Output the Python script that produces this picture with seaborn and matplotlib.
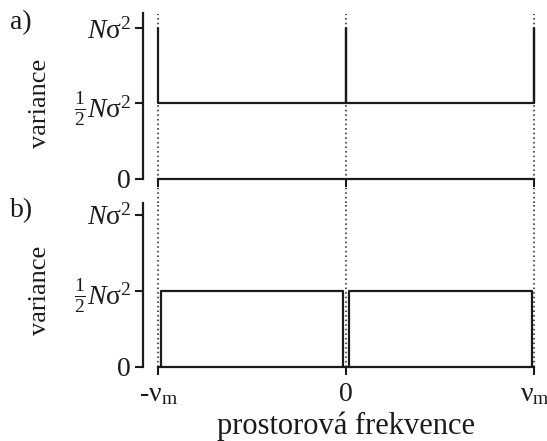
import matplotlib
matplotlib.use("Agg")
import matplotlib.pyplot as plt
import numpy as np
import pandas as pd
import seaborn as sns

# --- data -------------------------------------------------------------
# spatial frequency in units of the maximum frequency nu_m
freq_ticks = [-1.0, 0.0, 1.0]
freq_labels = [r"-$\mathrm{ν}_{\mathrm{m}}$", "0", r"$\mathrm{ν}_{\mathrm{m}}$"]
# variance in units of N*sigma^2
var_ticks = [0.0, 0.5, 1.0]
var_labels = ["0", r"$\frac{1}{2}N\mathrm{σ}^{2}$", r"$N\mathrm{σ}^{2}$"]

# a) flat half-level spectrum with spikes at -nu_m, 0, nu_m
a_spike_freqs = [-1.0, 0.0, 1.0]
a_spike_height = 1.0
a_floor = 0.5

# b) two rectangular bands at half level
b_band_starts = [-0.985, 0.015]
b_band_ends = [-0.015, 0.985]
b_level = 0.5

INK = "#1c1a1b"

sns.set_theme(style="ticks")
plt.rcParams["font.family"] = ["Liberation Serif", "DejaVu Serif"]
plt.rcParams["mathtext.fontset"] = "custom"
plt.rcParams["mathtext.rm"] = "Liberation Serif"
plt.rcParams["mathtext.it"] = "Liberation Serif:italic"
plt.rcParams["mathtext.bf"] = "Liberation Serif:bold"

W, H = 547, 441
fig = plt.figure(figsize=(W / 100, H / 100), dpi=100)

XLIM = (-1.08, 1.08)
left = 143 / W
width = (549.4 - 143) / W
ax_a = fig.add_axes([left, (H - 178.5) / H, width, 165 / H])
ax_b = fig.add_axes([left, (H - 366.5) / H, width, 163.8 / H])


def spike_path(freqs, floor, top):
    xs, ys = [], []
    for i, f in enumerate(freqs):
        if i == 0:
            xs += [f, f]
            ys += [top, floor]
        else:
            xs += [f, f, f]
            ys += [floor, top, floor]
    return pd.DataFrame({"freq": xs, "variance": ys})


def band_path(x0, x1, level):
    return pd.DataFrame({"freq": [x0, x0, x1, x1], "variance": [0, level, level, 0]})


sns.lineplot(data=spike_path(a_spike_freqs, a_floor, a_spike_height),
             x="freq", y="variance", sort=False, estimator=None,
             color=INK, lw=1.6, ax=ax_a)
for x0, x1 in zip(b_band_starts, b_band_ends):
    sns.lineplot(data=band_path(x0, x1, b_level), x="freq", y="variance",
                 sort=False, estimator=None, color=INK, lw=1.6, ax=ax_b)

for ax, top in ((ax_a, 1.1), (ax_b, 1.08)):
    ax.set_xlim(*XLIM)
    ax.set_ylim(0, top)
    sns.despine(ax=ax)
    ax.spines["bottom"].set_bounds(-1, 1)
    for s in ("left", "bottom"):
        ax.spines[s].set_linewidth(1.6)
        ax.spines[s].set_color(INK)
    ax.set_xticks(freq_ticks)
    ax.set_yticks(var_ticks)
    ax.set_yticklabels(var_labels)
    ax.tick_params(axis="both", direction="out", length=5.5, width=1.5,
                   color=INK, labelcolor=INK, labelsize=20)
    ax.tick_params(axis="y", pad=3)
    ax.tick_params(axis="x", pad=6)
    ax.set_ylabel("variance", fontsize=19, color=INK, va="center")
    ax.yaxis.set_label_coords((40 - 143) / (549.4 - 143), 0.5 / top)
    ax.set_xlabel("")
    ax.patch.set_alpha(0)

# dotted guides at -nu_m, 0 and nu_m running through both panels
for f in freq_ticks:
    ax_a.plot([f, f], [-0.162, 1.097], ls=(0, (1, 2)), lw=1.1, color=INK,
              clip_on=False, zorder=1)
    ax_b.plot([f, f], [0, 1.08], ls=(0, (1, 2)), lw=1.1, color=INK,
              clip_on=False, zorder=1)

ax_a.set_xticklabels([])
ax_b.set_xticklabels(freq_labels)
ax_b.set_xlabel("prostorová frekvence", fontsize=22, color=INK, va="baseline")
ax_b.xaxis.set_label_coords(0.5, -(434 - 366.5) / 163.8)

fig.text(10 / W, (H - 29) / H, "a)", fontsize=20, color=INK, va="baseline")
fig.text(10 / W, (H - 217) / H, "b)", fontsize=20, color=INK, va="baseline")

fig.savefig("out.png", dpi=100, facecolor="white")
